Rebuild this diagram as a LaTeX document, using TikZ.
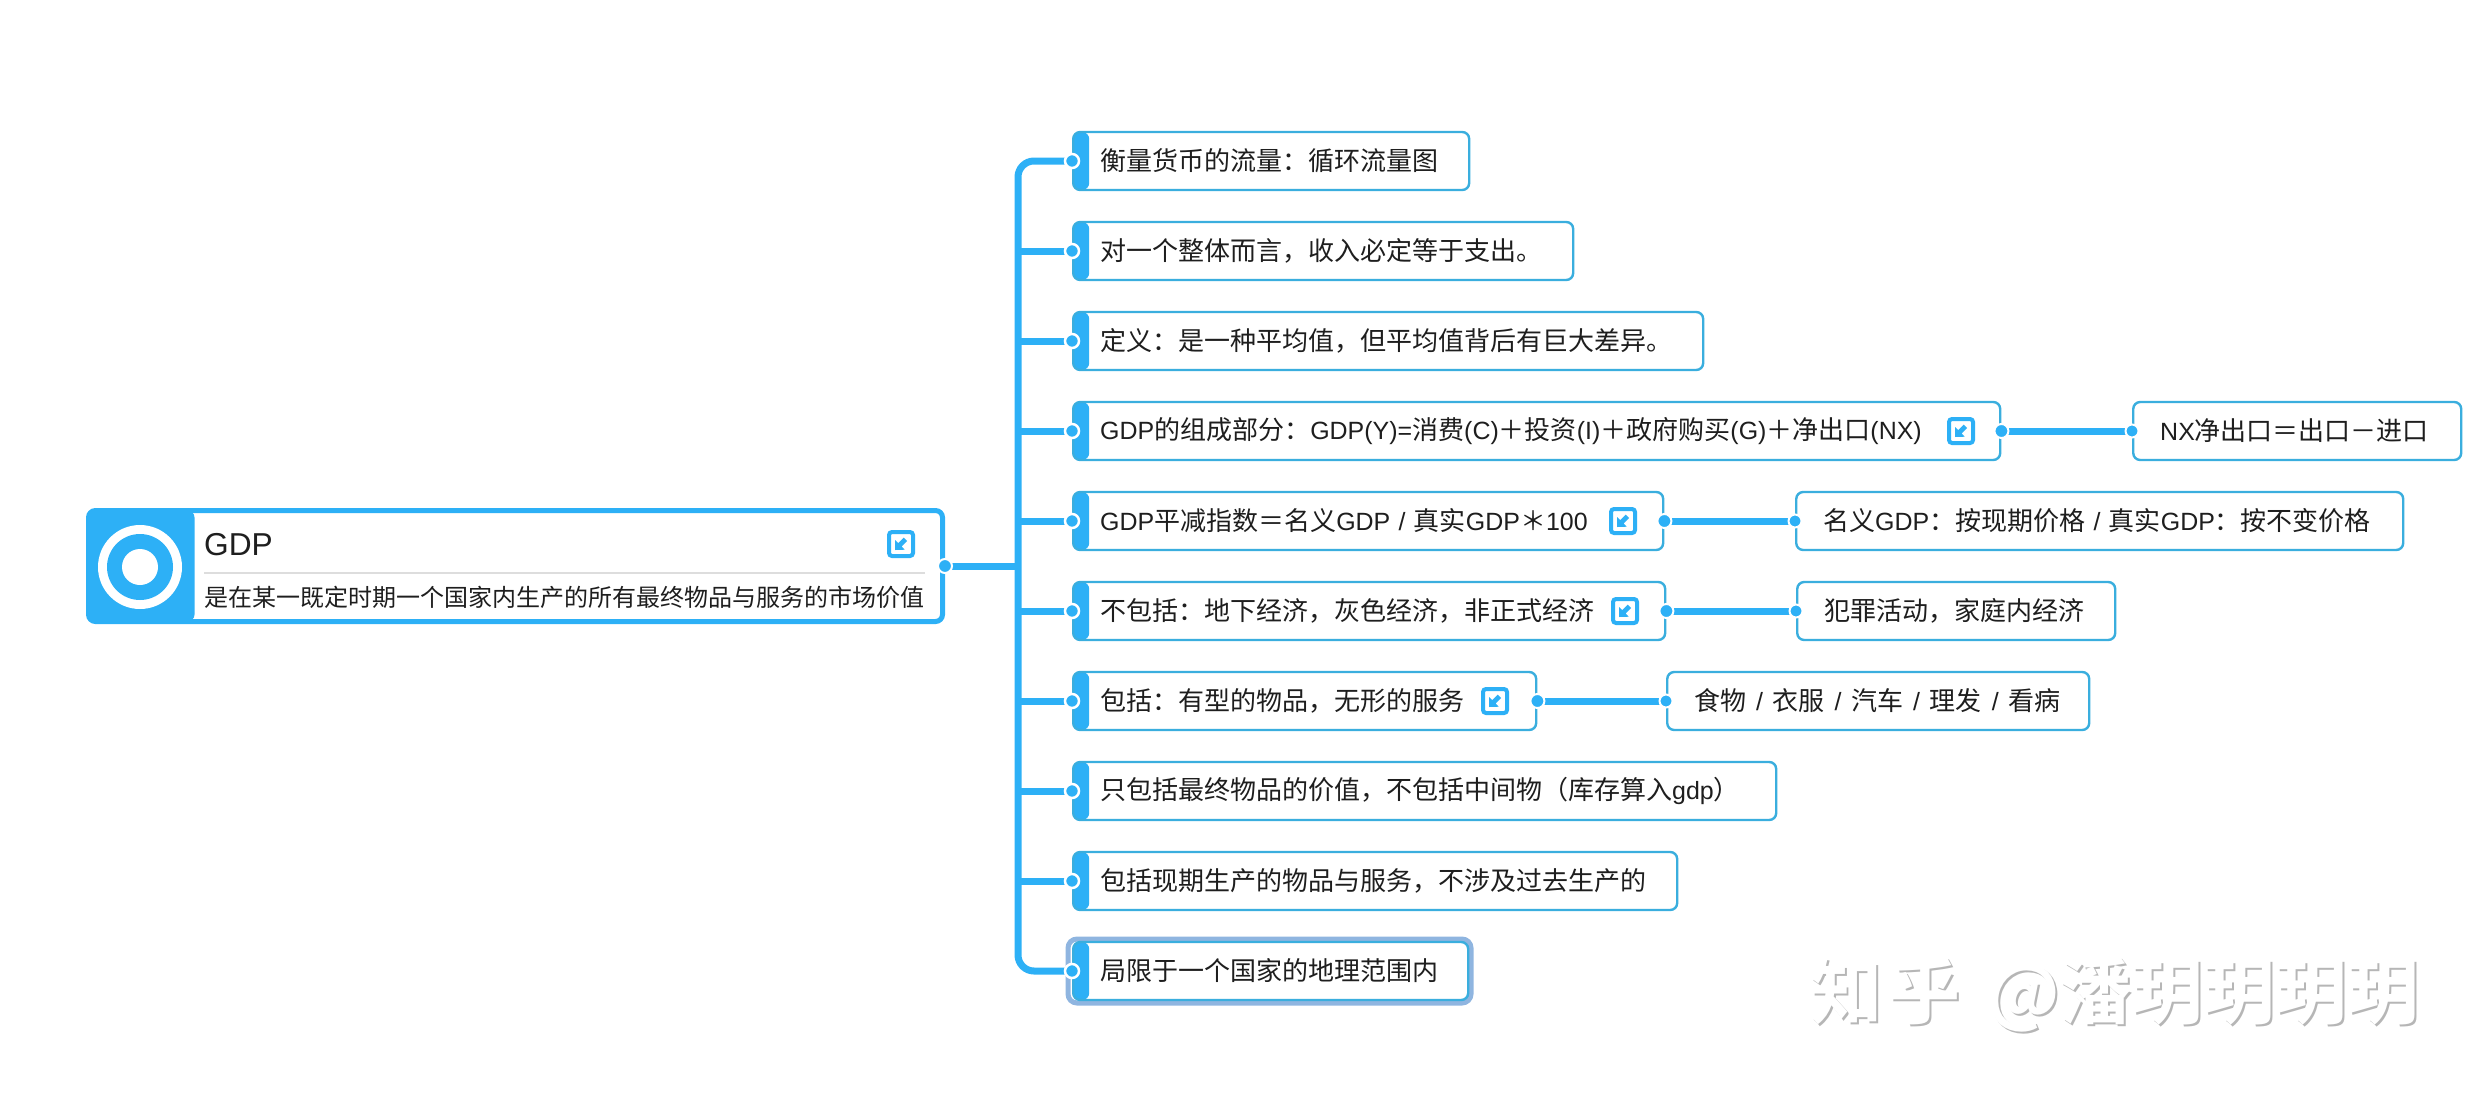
\documentclass[tikz,border=0pt]{standalone}
\usepackage{fontspec}
\setmainfont[Scale=0.96]{Liberation Sans}
\newfontfamily\cjk{Noto Sans CJK SC}
\newfontfamily\cjkbold{Noto Sans CJK SC Bold}
\usetikzlibrary{calc}
\definecolor{mapblue}{HTML}{2DB0F6}
\definecolor{edgeblue}{HTML}{3AAEDE}
\definecolor{inkdark}{HTML}{1E1E1E}
\definecolor{focusblue}{HTML}{8FB5E0}
\definecolor{rulegray}{HTML}{DDDDDD}
\definecolor{markgray}{HTML}{B6B6B6}
% full-width punctuation, spelled by code point
\newcommand{\qc}{{\cjk ^^^^ff1a}}
\newcommand{\qk}{{\cjk ^^^^ff0c}}
\newcommand{\qp}{{\cjk ^^^^ff0b}}
\newcommand{\qe}{{\cjk ^^^^ff1d}}
\newcommand{\qm}{{\cjk ^^^^ff0d}}
\newcommand{\qs}{{\cjk ^^^^ff0a}}
\newcommand{\ql}{{\cjk ^^^^ff08}}
\newcommand{\qr}{{\cjk ^^^^ff09}}
% spaced slash between list items
\newcommand{\sep}{\hspace{1.5pt} / \hspace{1.5pt}}
\tikzset{
  x=1pt,y=-1pt,
  box/.style={draw=edgeblue,line width=2.4pt,rounded corners=7pt,fill=white,
    minimum height=58pt,anchor=west,inner xsep=27pt,inner ysep=0pt,align=left,
    text=inkdark,font=\fontsize{26}{30}\selectfont},
  band/.style={path picture={\fill[mapblue] (path picture bounding box.north west)
    rectangle ([xshift=16pt]path picture bounding box.south west);}},
  link/.style={draw=mapblue,line width=7pt},
  port/.style={circle,fill=mapblue,draw=white,line width=2.5pt,minimum size=14pt,inner sep=0pt},
  outport/.style={circle,fill=mapblue,draw=white,line width=2pt,minimum size=14pt,inner sep=0pt},
  iconbox/.style={draw=mapblue,fill=white,line width=4pt,rounded corners=3pt,minimum size=24pt,inner sep=0pt},
}
% #1 name, #2 left, #3 right, #4 centre y, #5 text
\newcommand{\mainbox}[5]{\node[box,band,minimum width=#3pt-#2pt,text width=#3pt-#2pt-54pt] (#1) at (#2,#4) {\mbox{#5}};}
\newcommand{\leafbox}[5]{\node[box,minimum width=#3pt-#2pt,text width=#3pt-#2pt-54pt] (#1) at (#2,#4) {\mbox{#5}};}
% #1 name, #2 centre x, #3 centre y
\newcommand{\foldicon}[3]{%
  \node[iconbox] (#1) at (#2,#3) {};
  \fill[mapblue] ($(#1.center)+(-6,6)$) -- ++(0,-10) -- ++(3.2,3.2) -- ++(5.5,-5.5) -- ++(3.3,3.3) -- ++(-5.5,5.5) -- ++(3.2,3.2) -- cycle;
}
\begin{document}
\begin{tikzpicture}
\useasboundingbox (0,0) rectangle (2480,1092);
\coordinate (hub) at (1018,566);

% central topic
\node[draw=mapblue,line width=5pt,rounded corners=7pt,fill=white,minimum width=854pt,minimum height=111pt,anchor=west,inner sep=0pt,
  path picture={\fill[mapblue] (path picture bounding box.north west) rectangle ([xshift=106pt]path picture bounding box.south west);}]
  (root) at (86,566) {};
\node[circle,fill=white,minimum size=84pt,inner sep=0pt] (ringouter) at (140,567) {};
\node[circle,fill=mapblue,minimum size=66pt,inner sep=0pt] (ringmid) at (140,567) {};
\node[circle,fill=white,minimum size=36pt,inner sep=0pt] (ringcore) at (140,567) {};
\node[anchor=base west,inner sep=0pt,text=inkdark,font=\fontsize{33}{36}\selectfont] (title) at (204,555) {GDP};
\node[anchor=base west,inner sep=0pt,text=inkdark,font=\fontsize{24}{28}\cjk] (subtitle) at (204,606) {是在某一既定时期一个国家内生产的所有最终物品与服务的市场价值};
\coordinate (ruleL) at (204,573);
\coordinate (ruleR) at (925,573);
\draw[rulegray,line width=2pt] (ruleL) -- (ruleR);
\foldicon{rooticon}{901}{544}

% first-level topics
\mainbox{b1}{1072}{1468}{161}{{\cjk 衡量货币的流量}\qc{\cjk 循环流量图}}
\mainbox{b2}{1072}{1572}{251}{{\cjk 对一个整体而言}\qk{\cjk 收入必定等于支出。}}
\mainbox{b3}{1072}{1702}{341}{{\cjk 定义}\qc{\cjk 是一种平均值}\qk{\cjk 但平均值背后有巨大差异。}}
\mainbox{b4}{1072}{1999}{431}{GDP{\cjk 的组成部分}\qc GDP(Y)={\cjk 消费}(C)\qp{\cjk 投资}(I)\qp{\cjk 政府购买}(G)\qp{\cjk 净出口}(NX)}
\mainbox{b5}{1072}{1662}{521}{GDP{\cjk 平减指数}\qe{\cjk 名义}GDP / {\cjk 真实}GDP\qs 100}
\mainbox{b6}{1072}{1664}{611}{{\cjk 不包括}\qc{\cjk 地下经济}\qk{\cjk 灰色经济}\qk{\cjk 非正式经济}}
\mainbox{b7}{1072}{1535}{701}{{\cjk 包括}\qc{\cjk 有型的物品}\qk{\cjk 无形的服务}}
\mainbox{b8}{1072}{1775}{791}{{\cjk 只包括最终物品的价值}\qk{\cjk 不包括中间物}\ql{\cjk 库存算入}gdp\qr}
\mainbox{b9}{1072}{1676}{881}{{\cjk 包括现期生产的物品与服务}\qk{\cjk 不涉及过去生产的}}
\draw[focusblue,line width=5pt,rounded corners=9pt] (1068,939) rectangle (1471,1003);
\mainbox{b10}{1072}{1467}{971}{\cjk 局限于一个国家的地理范围内}

% second-level topics
\leafbox{c4}{2132}{2460}{431}{NX{\cjk 净出口}\qe{\cjk 出口}\qm{\cjk 进口}}
\leafbox{c5}{1795}{2402}{521}{{\cjk 名义}GDP\qc{\cjk 按现期价格} / {\cjk 真实}GDP\qc{\cjk 按不变价格}}
\leafbox{c6}{1796}{2114}{611}{{\cjk 犯罪活动}\qk{\cjk 家庭内经济}}
\leafbox{c7}{1666}{2088}{701}{{\cjk 食物}\sep{\cjk 衣服}\sep{\cjk 汽车}\sep{\cjk 理发}\sep{\cjk 看病}}

\foldicon{i4}{1961}{431}
\foldicon{i5}{1623}{521}
\foldicon{i6}{1625}{611}
\foldicon{i7}{1495}{701}

% connectors
\draw[link] (root.east) -- (hub);
\draw[link,rounded corners=16pt] (b1.west) -- (b1.west -| hub) -- (b10.west -| hub) -- (b10.west);
\foreach \n in {b2,b3,b4,b5,b6,b7,b8,b9}{\draw[link] (\n.west) -- (\n.west -| hub);}
\foreach \n in {4,5,6,7}{\draw[link] (b\n.east) -- (c\n.west);}

% connector ports
\foreach \n in {1,...,10}{\node[port] (pb\n) at (b\n.west) {};}
\foreach \n in {4,5,6,7}{\node[outport] (pr\n) at (b\n.east) {}; \node[outport,minimum size=13pt] (pc\n) at (c\n.west) {};}
\node[outport] (proot) at (root.east) {};

% site watermark: grey letters with a white face laid slightly up and to the left
\newcommand{\marktext}{知\hspace{6pt}乎\hspace{27pt}@\hspace{0pt}潘玥玥玥玥}
\node[anchor=base west,inner sep=0pt,font=\fontsize{72}{80}\cjkbold] (mark) at (1810,1018)
  {\rlap{\color{markgray}\hspace{2pt}\raisebox{-2pt}{\marktext}}\color{white}\marktext};
\end{tikzpicture}
\end{document}
